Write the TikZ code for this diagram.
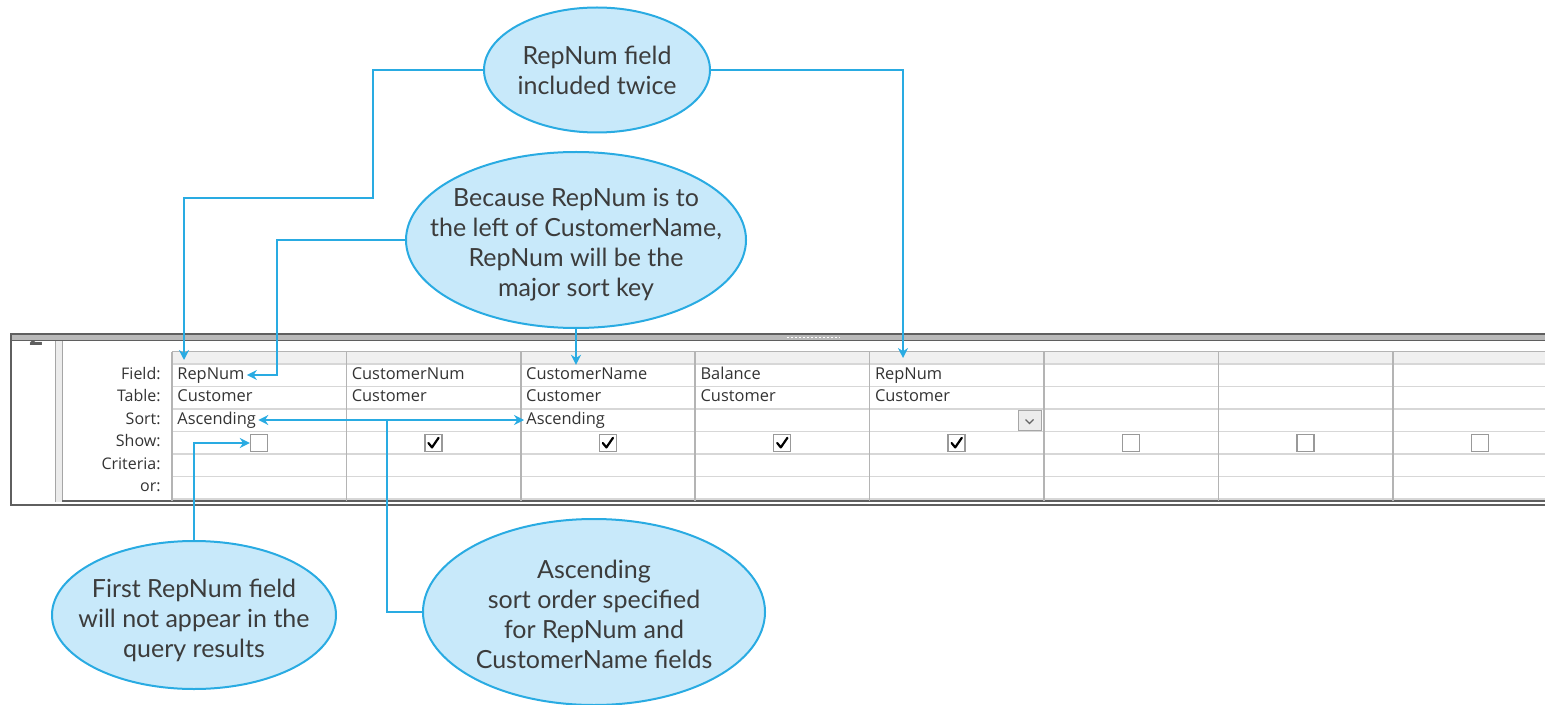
\documentclass[tikz,border=0pt]{standalone}
\usepackage{fontspec}
\setmainfont{Lato}
\newfontfamily\gridfont{Open Sans}
\usetikzlibrary{shapes.geometric,arrows.meta}
\definecolor{calloutline}{RGB}{41,171,226}
\definecolor{calloutfill}{RGB}{200,233,250}
\definecolor{textgray}{RGB}{60,60,60}
\definecolor{framegray}{RGB}{95,95,95}
\definecolor{rowgray}{RGB}{215,215,215}
\definecolor{colgray}{RGB}{180,180,180}

\begin{document}
\begin{tikzpicture}[x=0.5pt, y=-0.5pt,
    callout/.style={ellipse, draw=calloutline, fill=calloutfill, line width=1pt, inner sep=0pt},
    callouttext/.style={align=center, text=textgray, inner sep=0pt, font=\fontsize{12.5}{15}\selectfont},
    link/.style={draw=calloutline, line width=1pt, -{Stealth[length=5pt,width=5pt]}},
    cell/.style={anchor=west, inner sep=1pt, text height=6pt, text depth=1.8pt, text=black!80, font=\gridfont\fontsize{8.2}{9}\selectfont},
    rowlabel/.style={anchor=east, inner sep=1pt, text height=6pt, text depth=1.8pt, text=black!80, font=\gridfont\fontsize{8}{9}\selectfont},
    chkbox/.style={draw=gray!80, line width=0.7pt, fill=white, minimum size=8.5pt, inner sep=0pt},
    tick/.style={black, line width=1.1pt, line cap=round, line join=round}]
    \useasboundingbox (0,0) rectangle (1545,705);

    % Draw window frame
    \fill[gray!55] (10,334) rectangle (1545,341);
    \draw[framegray, line width=1.2pt] (10,334) -- (1545,334);
    \draw[framegray, line width=0.6pt] (10,340.5) -- (1545,340.5);
    \draw[white, line width=0.8pt, dash pattern=on 1pt off 1pt] (787,337.5) -- (840,337.5);
    \fill[gray!15] (55,341) rectangle (62,502);
    \draw[gray!70] (55,341) -- (55,502);
    \draw[gray!70] (62,341) -- (62,502);
    \draw[framegray, line width=1.2pt] (11,334) -- (11,505) -- (1545,505);
    \draw[framegray, line width=0.6pt] (62,501) -- (1545,501);
    \begin{scope}
        \clip (12,341) rectangle (55,360);
        \node[text=framegray, font=\gridfont\bfseries\fontsize{12}{12}\selectfont] (tabnum) at (36,337) {2};
    \end{scope}

    % Draw design grid
    \fill[gray!12] (172,352) rectangle (1545,363);
    \draw[colgray, line width=0.8pt] (172,351.5) -- (1545,351.5);
    \foreach \y in {364,386.5,409,431.5,454,476.5,499}
        \draw[rowgray, line width=0.8pt] (172,\y) -- (1545,\y);
    \foreach \i in {0,...,7}
        \draw[colgray, line width=0.8pt] ({172+174.4*\i},351.5) -- ({172+174.4*\i},501);

    % Row labels
    \foreach \lab/\y [count=\n] in {Field:/375, Table:/397.5, Sort:/420, Show:/442.5, Criteria:/465, or:/487.5}
        \node[rowlabel] (row\n) at (163,\y) {\lab};

    % Field and table entries
    \foreach \i/\f in {1/RepNum, 2/CustomerNum, 3/CustomerName, 4/Balance, 5/RepNum} {
        \node[cell] (f\i) at ({172+174.4*(\i-1)+3},375) {\f};
        \node[cell] (t\i) at ({172+174.4*(\i-1)+3},397.5) {Customer};
    }
    \node[cell] (s1) at (175,420) {Ascending};
    \node[cell] (s3) at (524,420) {Ascending};

    % Dropdown button
    \node[draw=gray!70, fill=gray!15, minimum width=11.5pt, minimum height=10pt, inner sep=0pt] (dd) at (1029.5,420.5) {};
    \draw[gray!80!black, line width=0.6pt] ([xshift=-2pt,yshift=0.5pt]dd.center) -- ([yshift=-1.5pt]dd.center) -- ([xshift=2pt,yshift=0.5pt]dd.center);

    % Show checkboxes
    \foreach \i in {1,...,8}
        \node[chkbox] (cb\i) at ({172+174.4*(\i-1)+87},443) {};
    \foreach \i in {2,...,5}
        \draw[tick] ([xshift=-2.5pt]cb\i.center) -- ([xshift=-0.7pt,yshift=-2.2pt]cb\i.center) -- ([xshift=2.6pt,yshift=2.6pt]cb\i.center);

    % Draw callouts
    \node[callout, minimum width=113pt, minimum height=62.5pt] (c1) at (597,70) {};
    \node[callouttext] (c1t) at (597,70) {RepNum field\\included twice};
    \node[callout, minimum width=170pt, minimum height=88pt] (c2) at (576,240) {};
    \node[callouttext] (c2t) at (576,245) {Because RepNum is to\\the left of CustomerName,\\RepNum will be the\\major sort key};
    \node[callout, minimum width=142pt, minimum height=74pt] (c3) at (194,615) {};
    \node[callouttext] (c3t) at (194,620) {First RepNum field\\will not appear in the\\query results};
    \node[callout, minimum width=171pt, minimum height=93pt] (c4) at (594,612) {};
    \node[callouttext] (c4t) at (594,614) {Ascending\\sort order specified\\for RepNum and\\CustomerName fields};

    % Draw connectors
    \coordinate (bendA) at (373,198);
    \coordinate (tipA) at (184,360);
    \coordinate (tipB) at (903,358);
    \coordinate (bendC) at (277,375);
    \coordinate (bendD) at (387,420);
    \draw[link] (c1.west) -| (bendA) -| (tipA);
    \draw[link] (c1.east) -| (tipB);
    \draw[link] (c2.west) -| (bendC) -- (f1.east);
    \draw[link] (c2.south) -- (c2.south |- f3.north);
    \draw[link] (c3.north) |- (cb1.west);
    \draw[link, -] (c4.west) -| (bendD);
    \draw[link, {Stealth[length=5pt,width=5pt]}-{Stealth[length=5pt,width=5pt]}] (s1.east) -- (s3.west);
\end{tikzpicture}
\end{document}
